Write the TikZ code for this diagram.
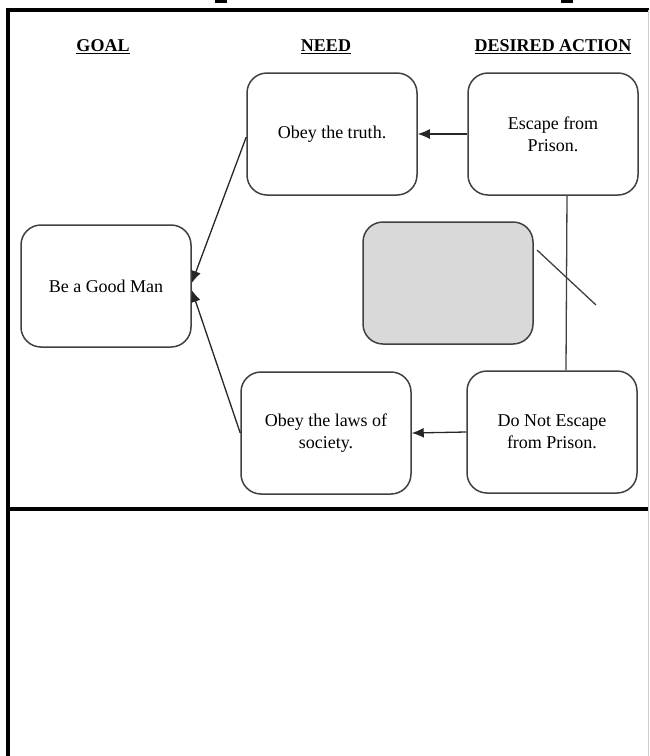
\documentclass[tikz,border=0pt]{standalone}
\usepackage{fontspec}
\setmainfont{Liberation Serif}
\usetikzlibrary{arrows.meta}
\begin{document}
\begin{tikzpicture}[x=1pt,y=-1pt,
  box/.style={draw=black!75,line width=1.5pt,rounded corners=20pt,minimum width=170pt,minimum height=122pt,inner sep=0pt,align=center,font=\fontsize{18}{22}\selectfont},
  head/.style={font=\fontsize{18}{21}\selectfont\bfseries,inner sep=0pt},
  arr/.style={line width=1.3pt,draw=black!85,-{Latex[length=12pt,width=10pt]}},
  ln/.style={line width=1.3pt,draw=black!75},
  frame/.style={line width=4.5pt,draw=black}]
\useasboundingbox (0,0) rectangle (649,756);
% title fragments
\fill (215,0) rectangle (227,3);
\fill (561,0) rectangle (573,3);
% frame
\draw[frame] (8,756) -- (8,10) -- (649,10);
\draw[frame] (8,509) -- (649,509);
\draw[black!20,line width=1pt] (648,10) -- (648,756);
% headers
\node[head] (hgoal) at (103,47) {\underline{GOAL}};
\node[head] (hneed) at (326,47) {\underline{NEED}};
\node[head] (hact) at (553,47) {\underline{DESIRED ACTION}};
% boxes
\node[box] (truth) at (332,134) {Obey the truth.};
\node[box] (escape) at (553,134) {Escape from\\Prison.};
\node[box,fill=black!15] (gray) at (448,283) {};
\node[box] (good) at (106,286) {Be a Good Man};
\node[box] (laws) at (326,433) {Obey the laws of\\society.};
\node[box] (notesc) at (552,432) {Do Not Escape\\from Prison.};
% connectors
\draw[arr] (escape.west) -- (truth.east);
\draw[arr] (notesc.west) -- (laws.east);
\draw[arr] ([yshift=-3pt]truth.west) -- ([yshift=3pt]good.east);
\draw[arr] (laws.west) -- ([yshift=-4pt]good.east);
\draw[ln] ([xshift=14pt]escape.south) -- ([xshift=14pt]notesc.north);
\coordinate (d1) at (537,250);
\coordinate (d2) at (596,305);
\draw[ln] (d1) -- (d2);
\end{tikzpicture}
\end{document}
